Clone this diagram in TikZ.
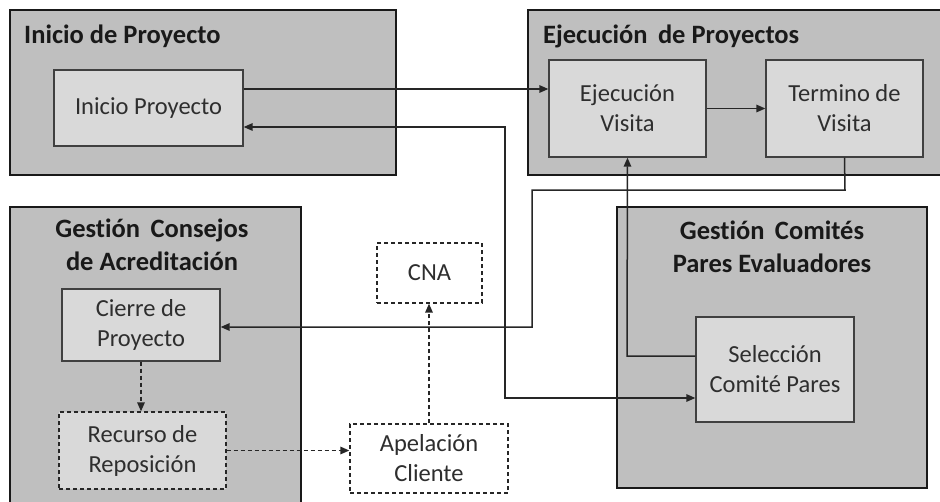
\documentclass[tikz,border=0pt]{standalone}
\usepackage{fontspec}
\setmainfont{Carlito}[Ligatures=NoCommon]
\usetikzlibrary{arrows.meta}
\definecolor{outerfill}{HTML}{BFBFBF}
\definecolor{innerfill}{HTML}{D9D9D9}
\definecolor{txtgray}{HTML}{2E2E2E}
\definecolor{edgegray}{HTML}{404040}
\tikzset{
  outerbox/.style={draw=black!90, line width=2.6pt, fill=outerfill, inner sep=0pt},
  innerbox/.style={draw=edgegray, line width=1.3pt, fill=innerfill, inner sep=0pt, align=center,
    text=txtgray, font=\fontsize{24.5}{30}\selectfont},
  dashbox/.style={draw=black!85, line width=1.3pt, dash pattern=on 4pt off 3pt, inner sep=0pt, align=center,
    text=txtgray, font=\fontsize{24.5}{30}\selectfont},
  titletext/.style={font=\bfseries\fontsize{26.5}{33}\selectfont, text=black!90, inner sep=0pt, align=center},
  conn/.style={draw=black!85, line width=1.5pt},
  arr/.style={conn, -{Triangle[length=9pt,width=7.5pt]}},
  darr/.style={conn, {Triangle[length=9pt,width=7.5pt]}-{Triangle[length=9pt,width=7.5pt]}},
  dasharr/.style={arr, dash pattern=on 4pt off 3pt},
}
\begin{document}
\begin{tikzpicture}[x=1pt,y=-1pt]
\useasboundingbox (0,0) rectangle (940,501);
\clip (0,0) rectangle (940,501);
\fill[white] (0,0) rectangle (940,501);
% outer group boxes
\node[outerbox, minimum width=386pt, minimum height=165pt] (g1) at (203,92.5) {};
\node[outerbox, minimum width=417pt, minimum height=165pt] (g2) at (736.5,92.5) {};
\node[outerbox, minimum width=291pt, minimum height=310pt] (g3) at (155.5,362) {};
\node[outerbox, minimum width=310pt, minimum height=281pt] (g4) at (772,347.5) {};
% titles
\node[titletext, anchor=base west] (t1) at (24,43) {Inicio de Proyecto};
\node[titletext, anchor=base west] (t2) at (543,43) {Ejecución\, de Proyectos};
\node[titletext, anchor=base] (t3) at (152,270) {Gestión\, Consejos\\de Acreditación};
\node[titletext, anchor=base] (t4) at (772,272) {Gestión\, Comités\\Pares Evaluadores};
% inner boxes
\node[innerbox, minimum width=189pt, minimum height=76pt] (ini) at (148.5,108) {Inicio Proyecto};
\node[innerbox, minimum width=157pt, minimum height=97pt] (ev) at (627.5,108.5) {Ejecución\\Visita};
\node[innerbox, minimum width=157pt, minimum height=97pt] (tv) at (844.5,108.5) {Termino de\\Visita};
\node[innerbox, minimum width=158pt, minimum height=72pt] (cp) at (141,325) {Cierre de\\Proyecto};
\node[innerbox, minimum width=158pt, minimum height=105pt] (sel) at (775,369.5) {Selección\\Comité Pares};
\node[dashbox, fill=innerfill, minimum width=167pt, minimum height=77pt] (rr) at (142.5,450.5) {Recurso de\\Reposición};
\node[dashbox, fill=white, minimum width=105pt, minimum height=60pt] (cna) at (429.5,273) {CNA};
\node[dashbox, fill=white, minimum width=158pt, minimum height=69pt] (ap) at (429,458.5) {Apelación\\Cliente};
% bend points
\coordinate (b1) at (845,190);
\coordinate (b2) at (532,190);
\coordinate (b3) at (532,327);
\coordinate (b4) at (505,127);
\coordinate (b5) at (505,398);
\coordinate (b6) at (627,356);
% connectors
\draw[arr] ([yshift=19pt]ini.east) -- ([yshift=19pt]ini.east -| ev.west);
\draw[arr] (ev.east) -- (tv.west);
\draw[arr] (tv.south) -- (b1) -- (b2) -- (b3) -- (b3 -| cp.east);
\draw[darr] ([yshift=-19pt]ini.east) -- (b4) -- (b5) -- (b5 -| sel.west);
\draw[arr] (b6 -| sel.west) -- (b6) -- (ev.south);
\draw[dasharr] (cp.south) -- (cp.south |- rr.north);
\draw[dasharr] (rr.east) -- (rr.east -| ap.west);
\draw[dasharr] (ap.north) -- (ap.north |- cna.south);
\end{tikzpicture}
\end{document}
